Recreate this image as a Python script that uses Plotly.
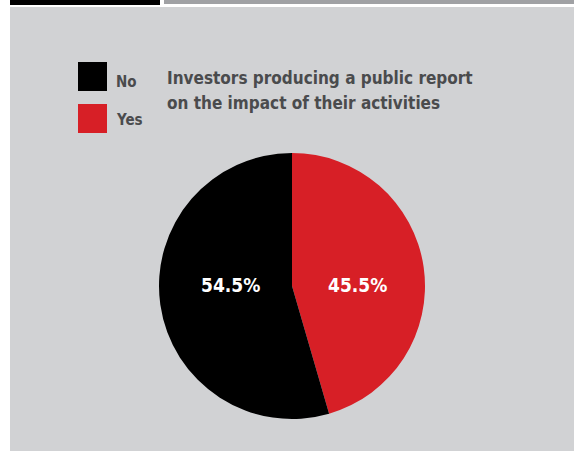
import plotly.graph_objects as go

# Survey answers and their shares (%)
answers = ["Yes", "No"]
shares = [45.5, 54.5]
answer_colors = {"Yes": "#d71f26", "No": "#000000"}

title_lines = ["Investors producing a public report", "on the impact of their activities"]

W, H = 574, 451
FONT = "DejaVu Sans Condensed, Liberation Sans Narrow, sans-serif"
TEXT_GREY = "#4a4b4d"
PANEL = "#d1d2d4"


def px(x):
    return x / W


def py(y):
    return 1 - y / H


fig = go.Figure()

fig.add_trace(go.Pie(
    labels=answers,
    values=shares,
    sort=False,
    direction="clockwise",
    rotation=0,
    marker=dict(colors=[answer_colors[a] for a in answers], line=dict(width=0)),
    textinfo="none",
    domain=dict(x=[px(159), px(425)], y=[py(419), py(153)]),
    hoverinfo="label+value",
    showlegend=False,
))

shapes = [
    # grey panel behind the chart
    dict(type="rect", xref="paper", yref="paper", x0=px(10), x1=1, y0=0, y1=py(7),
         fillcolor=PANEL, line=dict(width=0), layer="below"),
    # header rules
    dict(type="rect", xref="paper", yref="paper", x0=px(10), x1=px(160), y0=py(5), y1=1,
         fillcolor="#000000", line=dict(width=0), layer="below"),
    dict(type="rect", xref="paper", yref="paper", x0=px(164), x1=1, y0=py(4), y1=1,
         fillcolor="#a0a1a4", line=dict(width=0), layer="below"),
]

annotations = []

# legend swatches and labels
legend_order = ["No", "Yes"]
swatch_tops = [62, 104]
label_centres = [82, 120]
for name, top, yc in zip(legend_order, swatch_tops, label_centres):
    shapes.append(dict(type="rect", xref="paper", yref="paper",
                       x0=px(78), x1=px(107), y0=py(top + 29), y1=py(top),
                       fillcolor=answer_colors[name], line=dict(width=0)))
    annotations.append(dict(xref="paper", yref="paper", x=px(114), y=py(yc),
                            xanchor="left", yanchor="middle", showarrow=False,
                            text=name,
                            font=dict(family=FONT, size=15, color=TEXT_GREY, weight="bold")))

# two-line title
for line, yc in zip(title_lines, [78, 103]):
    annotations.append(dict(xref="paper", yref="paper", x=px(165), y=py(yc),
                            xanchor="left", yanchor="middle", align="left", showarrow=False,
                            text=line,
                            font=dict(family=FONT, size=17, color=TEXT_GREY, weight="bold")))

# slice value labels, left and right of the pie centre
label_x = {"No": 230, "Yes": 357}
for name, value in zip(answers, shares):
    annotations.append(dict(xref="paper", yref="paper", x=px(label_x[name]), y=py(285),
                            xanchor="center", yanchor="middle", showarrow=False,
                            text=f"{value:.1f}%",
                            font=dict(family=FONT, size=19, color="white", weight="bold")))

fig.update_layout(
    width=W, height=H,
    margin=dict(l=0, r=0, t=0, b=0),
    paper_bgcolor="white",
    plot_bgcolor="white",
    shapes=shapes,
    annotations=annotations,
)

fig.write_html("out.html")
